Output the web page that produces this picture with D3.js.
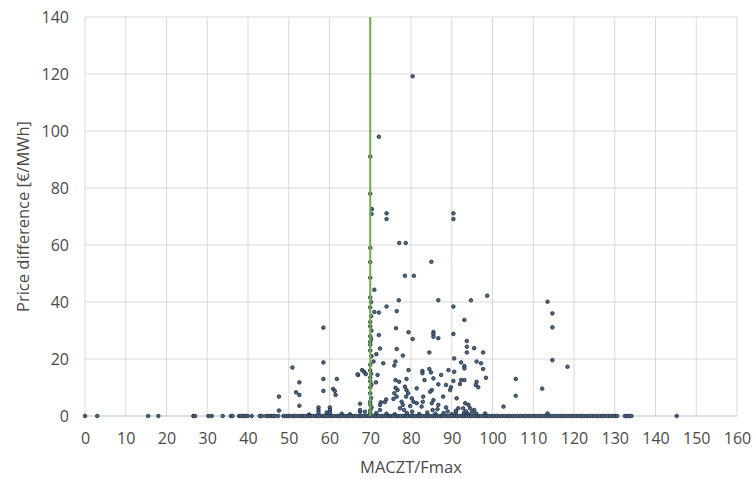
<!DOCTYPE html>
<html>
<head>
<meta charset="utf-8">
<script src="https://cdn.jsdelivr.net/npm/d3@7"></script>
<style>
  html, body { margin: 0; padding: 0; background: #ffffff; }
  svg text { font-family: "Open Sans", "DejaVu Sans", sans-serif; fill: #4a4a4a; }
</style>
</head>
<body>
<svg id="chart" width="754" height="479"></svg>
<script>
// Hours with a positive price difference: MACZT/Fmax ratio and price difference (€/MWh)
const ratio = [
  80.4, 72.1, 70.0, 70.0, 70.4, 70.3, 74.0, 90.4, 74.0, 90.4,
  77.1, 78.7, 70.0, 85.0, 70.0, 78.5, 80.7, 70.0, 71.0, 70.0,
  77.0, 86.7, 94.7, 98.7, 74.0, 90.4, 72.1, 76.5, 93.1, 72.1,
  76.3, 79.4, 80.4, 85.5, 85.5, 85.5, 86.7, 90.4, 93.7, 93.7,
  93.7, 95.5, 97.7, 72.4, 76.5, 84.5, 78.0, 90.6, 58.5, 113.5,
  114.7, 114.7, 114.7, 118.4, 71.5, 70.8, 70.0, 71.0, 70.2, 70.0,
  70.0, 70.3, 70.0, 70.2, 70.0, 70.0, 70.3, 70.0, 70.0, 70.2,
  70.0, 70.0, 70.3, 70.0, 70.0, 70.2, 70.0, 70.0, 70.3, 70.0,
  70.0, 70.2, 70.0,
  73.2, 76.2, 75.9, 92.3, 93.1, 93.1, 96.1, 97.2, 97.7, 79.4,
  82.8, 82.8, 84.5, 84.9, 87.4, 89.2, 90.6, 71.8, 67.0, 68.0,
  68.5, 68.9, 71.4, 76.2, 77.1, 78.9, 83.3, 85.5, 92.3, 93.1,
  92.0, 96.1, 95.9, 96.5, 98.4, 105.7, 105.7, 102.7, 86.7, 88.6,
  89.8, 89.6, 90.4, 85.1, 81.4, 78.5, 78.9, 79.3, 78.8, 76.2,
  76.7, 75.9, 76.5, 75.7, 73.9, 73.6, 72.6, 77.7, 78.0, 77.3,
  78.3, 80.2, 80.6, 81.4, 79.8, 83.0, 82.9, 82.6, 84.7, 85.5,
  85.1, 86.7, 86.5, 85.3, 87.9, 88.6, 91.2, 91.6, 92.8, 93.3,
  94.1, 94.5, 95.5, 98.2, 67.5, 67.5, 68.7, 72.4, 72.4, 80.3,
  112.2, 113.5, 50.9, 52.6, 51.8, 52.6, 52.6, 47.6, 47.6, 58.5,
  58.5, 58.5, 61.8, 60.9, 61.3, 61.5, 57.3, 57.3, 57.3, 59.3,
  60.1, 60.1, 60.1, 67.5, 66.9,
  74.0, 76.0, 79.0, 82.0, 84.0, 86.0, 88.0, 90.0, 91.0, 93.0,
  94.0, 96.0, 63.0, 65.0, 55.0, 71.5, 89.0, 91.0, 93.5, 95.0
];
const priceDiff = [
  119.2, 98.0, 91.0, 78.0, 72.6, 70.9, 71.1, 71.1, 69.1, 69.1,
  60.7, 60.7, 59.0, 54.1, 54.0, 49.2, 49.2, 48.5, 44.3, 41.6,
  40.6, 40.6, 40.6, 42.2, 38.4, 38.4, 36.3, 36.8, 33.7, 28.4,
  30.8, 29.4, 27.0, 29.5, 28.7, 27.8, 27.3, 28.8, 26.3, 24.3,
  22.3, 23.8, 22.3, 23.7, 23.5, 22.3, 21.2, 20.2, 31.0, 40.1,
  36.0, 31.1, 19.6, 17.3, 21.7, 19.1, 38.1, 36.5, 35.0, 33.0,
  31.5, 30.0, 28.0, 27.0, 25.0, 23.0, 21.0, 18.0, 16.0, 14.8,
  13.5, 12.2, 11.0, 10.0, 8.0, 6.3, 5.0, 4.0, 3.0, 2.0,
  1.0, 40.0, 26.0,
  18.5, 19.1, 17.7, 18.8, 17.5, 16.7, 19.1, 18.5, 16.5, 16.1,
  15.8, 15.0, 16.5, 15.3, 14.4, 16.1, 15.5, 14.4, 14.4, 16.1,
  15.5, 14.7, 11.8, 12.6, 12.0, 13.0, 12.6, 13.2, 12.6, 12.6,
  11.2, 12.0, 10.9, 10.1, 13.4, 13.0, 7.1, 3.3, 11.1, 10.9,
  10.1, 9.1, 12.3, 9.1, 9.7, 10.3, 9.1, 8.0, 6.8, 9.9,
  9.1, 8.0, 6.8, 6.0, 5.8, 4.9, 4.8, 5.0, 3.9, 2.7,
  2.1, 6.2, 5.0, 4.5, 3.5, 6.8, 5.0, 3.3, 8.5, 5.6,
  4.5, 3.9, 2.4, 2.1, 6.8, 3.0, 6.2, 2.7, 2.7, 4.5,
  3.9, 2.7, 2.1, 0.9, 4.3, 1.5, 1.5, 3.9, 2.1, 1.5,
  9.6, 0.9, 17.0, 11.8, 8.3, 7.4, 3.6, 6.8, 1.9, 18.8,
  13.0, 8.8, 13.0, 9.5, 8.8, 7.4, 3.0, 2.1, 1.2, 1.2,
  3.0, 2.1, 1.2, 2.1, 14.6,
  0.8, 0.6, 1.0, 0.7, 1.2, 0.8, 1.0, 0.6, 1.3, 1.1,
  0.7, 0.9, 0.8, 0.6, 0.5, 1.0, 1.6, 1.8, 1.6, 1.4
];
// Hours with no price difference (price difference = 0)
const zeroRatio = [
  0, 3, 15.5, 18, 26.6, 27, 30.3, 31.1, 33.8, 35.8, 36.2, 37.8, 38.3, 38.9, 39.4,
  39.9, 40.9, 42.9, 43.4, 44.4, 45, 45.6, 46.1, 46.6, 47.4,
  48.7, 49.3, 49.9, 50.4, 51.1, 51.6, 52.2, 52.9, 53.4, 54.0, 54.7, 55.2, 55.8,
  56.5, 57.0, 57.6, 58.3, 58.8, 59.4, 60.1, 60.6, 61.2, 61.9, 62.4, 63.0, 63.7,
  64.2, 64.8, 65.5, 66.0, 66.6, 67.3, 67.8, 68.4, 69.1, 69.6, 70.2, 70.9, 71.4,
  72.0, 72.7, 73.2, 73.8, 74.5, 75.0, 75.6, 76.3, 76.8, 77.4, 78.1, 78.6, 79.2,
  79.9, 80.4, 81.0, 81.7, 82.2, 82.8, 83.5, 84.0, 84.6, 85.3, 85.8, 86.4, 87.1,
  87.6, 88.2, 88.9, 89.4, 90.0, 90.7, 91.2, 91.8, 92.5, 93.0, 93.6, 94.3, 94.8,
  95.4, 96.1, 96.6, 97.2, 97.9, 98.4, 99.0, 99.7, 100.3, 101.0, 101.6, 102.3,
  102.9, 103.6, 104.2, 104.9, 105.5, 106.2, 106.8, 107.5, 108.1, 108.8, 109.4,
  110.1, 110.7, 111.4, 112.0, 112.7, 113.3, 114.0, 114.6, 115.3, 115.9, 116.6,
  117.2, 117.9, 118.5, 119.2, 119.8, 120.5, 121.1, 121.8, 122.4, 123.1, 123.7,
  124.4, 125.0, 125.7, 126.3, 127.0, 127.6, 128.3, 128.9, 129.6, 130.2, 130.6,
  132.5, 133.0, 133.6, 134.1, 145.2
];
const xTicks = [0, 10, 20, 30, 40, 50, 60, 70, 80, 90, 100, 110, 120, 130, 140, 150, 160];
const yTicks = [0, 20, 40, 60, 80, 100, 120, 140];
const thresholdRatio = 70;
const xTitle = "MACZT/Fmax";
const yTitle = "Price difference [€/MWh]";

const svg = d3.select("#chart");
const margin = { left: 85, right: 17, top: 17, bottom: 63 };
const W = 754, H = 479;

const x = d3.scaleLinear().domain([0, 160]).range([margin.left, W - margin.right]);
const y = d3.scaleLinear().domain([0, 140]).range([H - margin.bottom, margin.top]);

// gridlines
const grid = svg.append("g");
grid.selectAll("line.v").data(xTicks).join("line")
  .attr("x1", d => x(d)).attr("x2", d => x(d))
  .attr("y1", y(0)).attr("y2", y(140))
  .attr("stroke", "#d9d9d9").attr("stroke-width", 1);
grid.selectAll("line.h").data(yTicks).join("line")
  .attr("x1", x(0)).attr("x2", x(160))
  .attr("y1", d => y(d)).attr("y2", d => y(d))
  .attr("stroke", d => d === 0 ? "#bfbfbf" : "#d9d9d9").attr("stroke-width", 1);

// axes (labels only)
const xAxis = svg.append("g")
  .attr("transform", `translate(0,${y(0)})`)
  .call(d3.axisBottom(x).tickValues(xTicks).tickSize(0).tickPadding(17).tickFormat(d3.format("d")));
xAxis.select(".domain").remove();
xAxis.selectAll("text").style("font-size", "16px").attr("fill", "#4a4a4a");

const yAxis = svg.append("g")
  .attr("transform", `translate(${x(0)},0)`)
  .call(d3.axisLeft(y).tickValues(yTicks).tickSize(0).tickPadding(16).tickFormat(d3.format("d")));
yAxis.select(".domain").remove();
yAxis.selectAll("text").style("font-size", "16px").attr("fill", "#4a4a4a");

// points
const pts = ratio.map((r, i) => ({ r, p: priceDiff[i] }))
  .concat(zeroRatio.map(r => ({ r, p: 0 })));
svg.append("g").selectAll("circle").data(pts).join("circle")
  .attr("cx", d => x(d.r)).attr("cy", d => y(d.p))
  .attr("r", 1.8)
  .attr("fill", "#4a6a8c")
  .attr("stroke", "#1c2836")
  .attr("stroke-width", 0.8);

// threshold line
svg.append("line")
  .attr("x1", x(thresholdRatio)).attr("x2", x(thresholdRatio))
  .attr("y1", y(140)).attr("y2", y(0))
  .attr("stroke", "#70ad47").attr("stroke-width", 2);

// titles
svg.append("text")
  .attr("x", (x(0) + x(160)) / 2).attr("y", 473)
  .attr("text-anchor", "middle")
  .style("font-size", "16.5px")
  .text(xTitle);
svg.append("text")
  .attr("transform", `translate(29,${(y(0) + y(140)) / 2}) rotate(-90)`)
  .attr("text-anchor", "middle")
  .style("font-size", "16.5px")
  .text(yTitle);
</script>
</body>
</html>
